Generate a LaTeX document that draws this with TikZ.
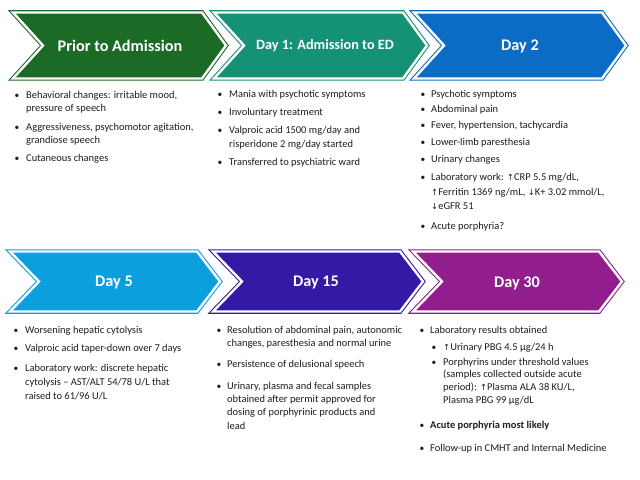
\documentclass[tikz,border=0pt]{standalone}
\usepackage{fontspec}
\setmainfont{Carlito}
\newfontfamily\symf{DejaVu Sans}
\newcommand{\myup}{{\symf\fontsize{8.5}{8.5}\selectfont ↑}}
\newcommand{\mydown}{{\symf\fontsize{8.5}{8.5}\selectfont ↓}}
\newcommand{\mylines}[1]{\begin{tabular}[t]{@{}l@{}}#1\end{tabular}}
\definecolor{cgreen}{HTML}{1B6A25}
\definecolor{cteal}{HTML}{159176}
\definecolor{cblue}{HTML}{0B6CC5}
\definecolor{clblue}{HTML}{0B9FDE}
\definecolor{cindigo}{HTML}{3418A6}
\definecolor{cpurple}{HTML}{911E8C}
\definecolor{textc}{HTML}{1E1E1E}
\tikzset{
  chevout/.style={draw=#1, fill=#1, line width=4.5bp, line join=miter},
  chevin/.style={draw=white, line width=2.4bp, line join=miter},
  title/.style={text=white, font=\fontsize{16.3}{17}\selectfont\bfseries, inner sep=0},
  item/.style={text=textc, font=\fontsize{10.5}{13}\selectfont, anchor=base west, inner sep=0},
  bul/.style={text=textc, font=\fontsize{9.5}{9.5}\selectfont, anchor=base, inner sep=0},
}
\newcommand{\chev}[7]{% color, x0, top, bottom, notch depth, body, tip depth
  \path[chevout=#1] (#2,#3) -- (#2+#6,#3) -- (#2+#6+#7,{(#3+#4)/2}) -- (#2+#6,#4) -- (#2,#4) -- (#2+#5,{(#3+#4)/2}) -- cycle;
  \path[chevin] (#2,#3) -- (#2+#6,#3) -- (#2+#6+#7,{(#3+#4)/2}) -- (#2+#6,#4) -- (#2,#4) -- (#2+#5,{(#3+#4)/2}) -- cycle;
}
\begin{document}
\begin{tikzpicture}[x=1bp,y=-1bp]
\useasboundingbox[fill=white] (0,0) rectangle (640,480);
% row 1 chevrons
\chev{cgreen}{13}{12.5}{78.5}{30}{189}{24}
\chev{cteal}{214}{12.5}{78.5}{30}{189}{24}
\chev{cblue}{414}{12.5}{78.5}{30}{188}{24}
% row 2 chevrons
\chev{clblue}{10}{251.5}{311.5}{29}{187}{23}
\chev{cindigo}{213}{251.5}{311.5}{29}{187}{23}
\chev{cpurple}{413}{251.5}{311.5}{29}{186}{23}
% titles
\node[title] (t1) at (120,46) {Prior to Admission};
\node[title, font=\fontsize{14.3}{15}\selectfont\bfseries] (t2) at (325,46) {Day 1: Admission to ED};
\node[title] (t3) at (520,46) {Day 2};
\node[title] (t4) at (114,283) {Day 5};
\node[title] (t5) at (316,283) {Day 15};
\node[title] (t6) at (517,283) {Day 30};
% column 1 row 1
\node[bul] (b11) at (17,99) {•};
\node[item] (i11) at (26,99) {\mylines{Behavioral changes: irritable mood,\\pressure of speech}};
\node[bul] (b12) at (17,131) {•};
\node[item] (i12) at (26,131) {\mylines{Aggressiveness, psychomotor agitation,\\grandiose speech}};
\node[bul] (b13) at (17,162) {•};
\node[item] (i13) at (26,162) {Cutaneous changes};
% column 2 row 1
\node[bul] (b21) at (220,98) {•};
\node[item] (i21) at (229,98) {Mania with psychotic symptoms};
\node[bul] (b22) at (220,116) {•};
\node[item] (i22) at (229,116) {Involuntary treatment};
\node[bul] (b23) at (220,134) {•};
\node[item, font=\fontsize{10.5}{14}\selectfont] (i23) at (229,134) {\mylines{Valproic acid 1500 mg/day and\\risperidone 2 mg/day started}};
\node[bul] (b24) at (220,166) {•};
\node[item] (i24) at (229,166) {Transferred to psychiatric ward};
% column 3 row 1
\node[bul] (b31) at (423,98) {•};
\node[item] (i31) at (431,98) {Psychotic symptoms};
\node[bul] (b32) at (423,113) {•};
\node[item] (i32) at (431,113) {Abdominal pain};
\node[bul] (b33) at (423,129) {•};
\node[item] (i33) at (431,129) {Fever, hypertension, tachycardia};
\node[bul] (b34) at (423,146) {•};
\node[item] (i34) at (431,146) {Lower-limb paresthesia};
\node[bul] (b35) at (423,163) {•};
\node[item] (i35) at (431,163) {Urinary changes};
\node[bul] (b36) at (423,181) {•};
\node[item, font=\fontsize{10.5}{14.5}\selectfont] (i36) at (431,181) {\mylines{Laboratory work: \myup CRP 5.5 mg/dL,\\\myup Ferritin 1369 ng/mL, \mydown K+ 3.02 mmol/L,\\\mydown eGFR 51}};
\node[bul] (b37) at (423,230) {•};
\node[item] (i37) at (431,230) {Acute porphyria?};
% column 1 row 2
\node[bul] (b41) at (16,333) {•};
\node[item] (i41) at (25,333) {Worsening hepatic cytolysis};
\node[bul] (b42) at (16,351) {•};
\node[item] (i42) at (25,351) {Valproic acid taper-down over 7 days};
\node[bul] (b43) at (16,371) {•};
\node[item, font=\fontsize{10.5}{14.5}\selectfont] (i43) at (25,371) {\mylines{Laboratory work: discrete hepatic\\cytolysis – AST/ALT 54/78 U/L that\\raised to 61/96 U/L}};
% column 2 row 2
\node[bul] (b51) at (219,333) {•};
\node[item, font=\fontsize{10.5}{13.5}\selectfont] (i51) at (227,333) {\mylines{Resolution of abdominal pain, autonomic\\changes, paresthesia and normal urine}};
\node[bul] (b52) at (219,367) {•};
\node[item] (i52) at (227,367) {Persistence of delusional speech};
\node[bul] (b53) at (219,389) {•};
\node[item, font=\fontsize{10.5}{13.5}\selectfont] (i53) at (227,389) {\mylines{Urinary, plasma and fecal samples\\obtained after permit approved for\\dosing of porphyrinic products and\\lead}};
% column 3 row 2
\node[bul] (b61) at (422,333) {•};
\node[item] (i61) at (430,333) {Laboratory results obtained};
\node[bul] (b62) at (434,350) {•};
\node[item] (i62) at (443,350) {\myup Urinary PBG 4.5 µg/24 h};
\node[bul] (b63) at (434,365) {•};
\node[item] (i63) at (443,365) {\mylines{Porphyrins under threshold values\\(samples collected outside acute\\period): \myup Plasma ALA 38 KU/L,\\Plasma PBG 99 µg/dL}};
\node[bul] (b64) at (422,428) {•};
\node[item, font=\fontsize{10.5}{13}\selectfont\bfseries] (i64) at (430,428) {Acute porphyria most likely};
\node[bul] (b65) at (422,451) {•};
\node[item] (i65) at (430,451) {Follow-up in CMHT and Internal Medicine};
\end{tikzpicture}
\end{document}
